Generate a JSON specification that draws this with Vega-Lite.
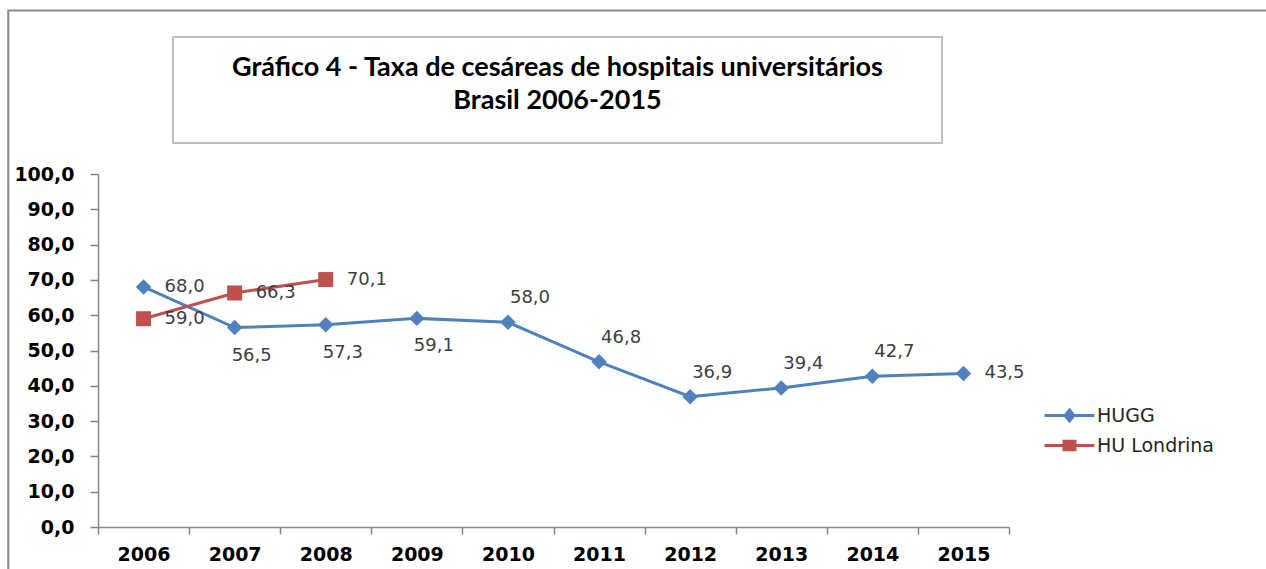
{
  "$schema": "https://vega.github.io/schema/vega-lite/v6.json",
  "width": 911,
  "height": 353,
  "autosize": {"type": "none"},
  "padding": {"left": 98, "top": 174, "right": 257, "bottom": 42},
  "background": "white",
  "config": {
    "view": {"stroke": null},
    "locale": {"number": {"decimal": ",", "thousands": ".", "grouping": [3], "currency": ["R$", ""]}}
  },
  "data": {
    "values": [
      {"year": 2006, "series": "HUGG", "value": 68.0},
      {"year": 2007, "series": "HUGG", "value": 56.5},
      {"year": 2008, "series": "HUGG", "value": 57.3},
      {"year": 2009, "series": "HUGG", "value": 59.1},
      {"year": 2010, "series": "HUGG", "value": 58.0},
      {"year": 2011, "series": "HUGG", "value": 46.8},
      {"year": 2012, "series": "HUGG", "value": 36.9},
      {"year": 2013, "series": "HUGG", "value": 39.4},
      {"year": 2014, "series": "HUGG", "value": 42.7},
      {"year": 2015, "series": "HUGG", "value": 43.5},
      {"year": 2006, "series": "HU Londrina", "value": 59.0},
      {"year": 2007, "series": "HU Londrina", "value": 66.3},
      {"year": 2008, "series": "HU Londrina", "value": 70.1}
    ]
  },
  "encoding": {
    "x": {
      "field": "year",
      "type": "ordinal",
      "scale": {"type": "band", "domain": [2006, 2007, 2008, 2009, 2010, 2011, 2012, 2013, 2014, 2015], "paddingInner": 0, "paddingOuter": 0},
      "axis": {
        "title": null,
        "labelAngle": 0,
        "labelFont": "DejaVu Sans",
        "labelFontWeight": "bold",
        "labelFontSize": 19,
        "labelColor": "#000000",
        "labelPadding": 11,
        "tickBand": "extent",
        "tickSize": 7,
        "tickColor": "#868686",
        "tickWidth": 1.5,
        "domainColor": "#868686",
        "domainWidth": 1.5,
        "grid": false
      }
    },
    "y": {
      "field": "value",
      "type": "quantitative",
      "scale": {"domain": [0, 100], "nice": false},
      "axis": {
        "title": null,
        "values": [0, 10, 20, 30, 40, 50, 60, 70, 80, 90, 100],
        "format": ".1f",
        "labelFont": "DejaVu Sans",
        "labelFontWeight": "bold",
        "labelFontSize": 19,
        "labelColor": "#000000",
        "labelPadding": 16,
        "tickSize": 8,
        "tickColor": "#868686",
        "tickWidth": 1.5,
        "domainColor": "#868686",
        "domainWidth": 1.5,
        "grid": false
      }
    }
  },
  "layer": [
    {
      "transform": [{"filter": "datum.series === 'HUGG' && datum.year === 2006"}],
      "mark": {"type": "rect", "fill": null, "fillOpacity": 0, "stroke": "#888888", "strokeWidth": 2},
      "encoding": {
        "x": {"datum": 2006, "bandPosition": -0.985},
        "x2": {"datum": 2015, "bandPosition": 4},
        "y": {"datum": 146.3},
        "y2": {"datum": -20}
      }
    },
    {
      "transform": [{"filter": "datum.series === 'HUGG' && datum.year === 2006"}],
      "mark": {"type": "rect", "fill": "white", "stroke": "#bfbfbf", "strokeWidth": 2},
      "encoding": {
        "x": {"datum": 2006, "bandPosition": 0.823},
        "x2": {"datum": 2015, "bandPosition": 0.265},
        "y": {"datum": 138.8},
        "y2": {"datum": 108.8}
      }
    },
    {
      "transform": [{"filter": "datum.series === 'HUGG' && datum.year === 2006"}],
      "mark": {
        "type": "text",
        "text": ["Gráfico 4 - Taxa de cesáreas de hospitais universitários", "Brasil 2006-2015"],
        "font": "Lato",
        "fontWeight": "bold",
        "fontSize": 27,
        "lineHeight": 33,
        "align": "center",
        "baseline": "alphabetic",
        "color": "#000000",
        "dx": 4
      },
      "encoding": {
        "x": {"datum": 2010, "bandPosition": 1},
        "y": {"datum": 127.8}
      }
    },
    {
      "mark": {"type": "line", "strokeWidth": 3},
      "encoding": {
        "color": {
          "field": "series",
          "type": "nominal",
          "scale": {"domain": ["HUGG", "HU Londrina"], "range": ["#4F81BD", "#C0504D"]},
          "legend": {
            "title": null,
            "orient": "none",
            "legendX": 960,
            "legendY": 230,
            "symbolSize": 400,
            "symbolStrokeWidth": 3,
            "labelFont": "DejaVu Sans",
            "labelFontSize": 19,
            "labelColor": "#262626",
            "labelOffset": 16,
            "rowPadding": 7,
            "encode": {
              "symbols": {
                "update": {
                  "shape": {"signal": "datum.value === 'HUGG' ? 'M-2.5,0L2.5,0M0,-0.55L0.45,0L0,0.55L-0.45,0Z' : 'M-2.5,0L2.5,0M-0.55,-0.42L0.55,-0.42L0.55,0.42L-0.55,0.42Z'"},
                  "fill": {"scale": "color", "field": "value"},
                  "stroke": {"scale": "color", "field": "value"},
                  "strokeWidth": {"value": 3},
                  "opacity": {"value": 1},
                  "size": {"value": 400}
                }
              }
            }
          }
        }
      }
    },
    {
      "transform": [{"filter": "datum.series === 'HUGG'"}],
      "mark": {"type": "point", "shape": "diamond", "filled": true, "opacity": 1, "size": 240},
      "encoding": {"color": {"field": "series", "type": "nominal", "legend": null}}
    },
    {
      "transform": [{"filter": "datum.series === 'HU Londrina'"}],
      "mark": {"type": "point", "shape": "square", "filled": true, "opacity": 1, "size": 225},
      "encoding": {"color": {"field": "series", "type": "nominal", "legend": null}}
    },
    {
      "transform": [{"filter": "datum.series === 'HU Londrina' || datum.year === 2006 || datum.year === 2015"}],
      "mark": {"type": "text", "align": "left", "baseline": "middle", "dx": 21, "font": "DejaVu Sans", "fontSize": 18, "color": "#404040"},
      "encoding": {"text": {"field": "value", "type": "quantitative", "format": ".1f"}}
    },
    {
      "transform": [{"filter": "datum.series === 'HUGG' && datum.year >= 2007 && datum.year <= 2009"}],
      "mark": {"type": "text", "align": "left", "baseline": "middle", "dx": -3, "dy": 28, "font": "DejaVu Sans", "fontSize": 18, "color": "#404040"},
      "encoding": {"text": {"field": "value", "type": "quantitative", "format": ".1f"}}
    },
    {
      "transform": [{"filter": "datum.series === 'HUGG' && datum.year >= 2010 && datum.year <= 2014"}],
      "mark": {"type": "text", "align": "left", "baseline": "middle", "dx": 2, "dy": -24, "font": "DejaVu Sans", "fontSize": 18, "color": "#404040"},
      "encoding": {"text": {"field": "value", "type": "quantitative", "format": ".1f"}}
    }
  ]
}
